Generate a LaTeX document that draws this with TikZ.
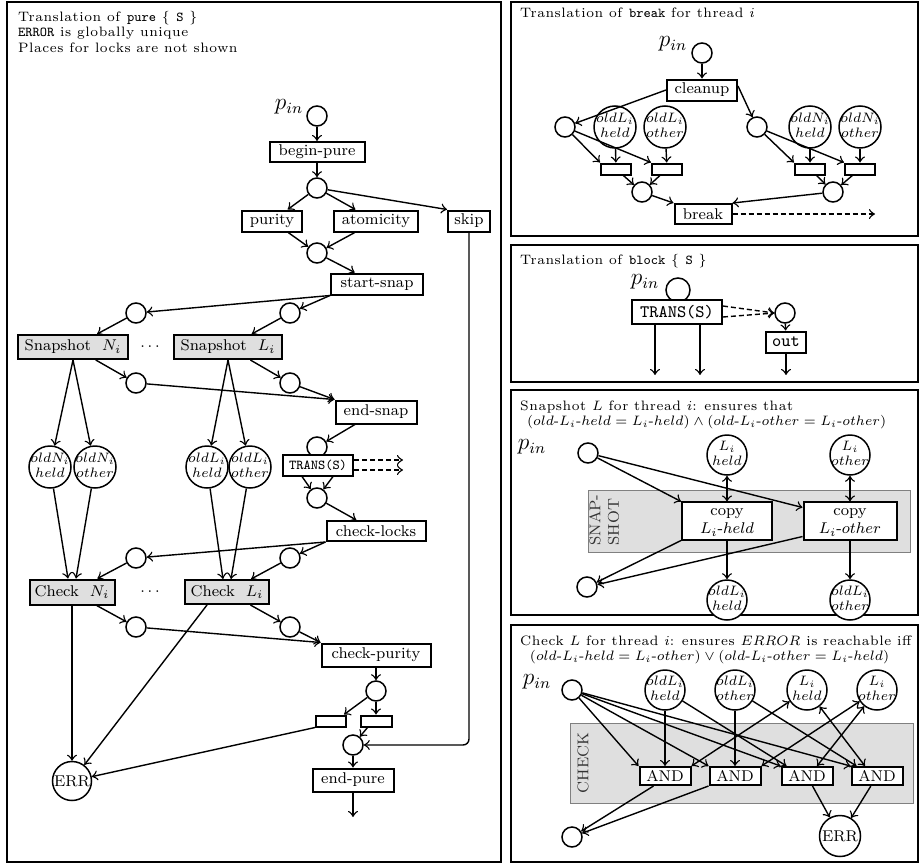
\documentclass[tikz,border=0pt]{standalone}
\usepackage{graphicx}
\usepackage{fontspec}
\newfontfamily\sevrm{lmroman7-regular.otf}[LetterSpace=4]
\usetikzlibrary{arrows.meta,calc}
\newcommand\sx[1]{\scalebox{1.95}{#1}}
\newcommand\twol[2]{\sx{\scriptsize\begin{tabular}{@{}c@{}}$#1$\\$#2$\end{tabular}}}
\newcommand\pinlbl{\sx{\large $p_{in}$}}
\tikzset{
 place/.style={circle,draw,line width=1.5pt,minimum size=20pt,inner sep=0pt,fill=white},
 bigplace/.style={circle,draw,line width=1.5pt,minimum size=42pt,inner sep=0pt,fill=white},
 errplace/.style={circle,draw,line width=1.5pt,minimum size=39pt,inner sep=0pt,fill=white},
 trans/.style={rectangle,draw,line width=2pt,inner sep=0pt,fill=white},
 gtrans/.style={trans,fill=gray!25},
 arr/.style={-{Classical TikZ Rightarrow[length=6pt,width=10pt]},line width=1.4pt},
 darr/.style={{Classical TikZ Rightarrow[length=6pt,width=10pt]}-{Classical TikZ Rightarrow[length=6pt,width=10pt]},line width=1.4pt},
 dsh/.style={arr,dash pattern=on 5pt off 3pt},
 panelbox/.style={draw,line width=2.2pt},
 region/.style={draw=gray,line width=0.8pt,fill=gray!25},
 lbl/.style={inner sep=0pt},
}
\begin{document}
\begin{tikzpicture}[x=1pt,y=-1pt]
\useasboundingbox (0,0) rectangle (920,867);
% panels
\draw[panelbox] (7,2) rectangle (501,862);
\draw[panelbox] (511,2) rectangle (918,236);
\draw[panelbox] (511,245) rectangle (918,382);
\draw[panelbox] (511,390) rectangle (918,615);
\draw[panelbox] (511,625) rectangle (918,862);

%================ LEFT PANEL ================
\node[lbl,anchor=north west] (t1) at (18,10) {\sx{\scriptsize\sevrm\begin{tabular}{@{}l@{}}Translation of \texttt{pure} \{ \texttt{S} \}\\\texttt{ERROR} is globally unique\\Places for locks are not shown\end{tabular}}};
\node[place] (pin) at (317,116) {};
\node[lbl] (pinl) at (289,107) {\pinlbl};
\node[trans,minimum width=95pt,minimum height=20pt] (bp) at (317,152) {\sx{\footnotesize begin-pure}};
\node[place] (c2) at (317,188) {};
\node[trans,minimum width=60pt,minimum height=21pt] (pur) at (272,221) {\sx{\footnotesize purity}};
\node[trans,minimum width=84pt,minimum height=21pt] (atom) at (376,221) {\sx{\footnotesize atomicity}};
\node[trans,minimum width=42pt,minimum height=21pt] (skip) at (469,221) {\sx{\footnotesize skip}};
\node[place] (c3) at (317,253) {};
\node[trans,minimum width=92pt,minimum height=21pt] (ss) at (377,284) {\sx{\footnotesize start-snap}};
\node[place] (s1) at (136,313) {};
\node[place] (s2) at (290,313) {};
\node[gtrans,minimum width=110pt,minimum height=24pt] (snN) at (73,347) {\sx{\footnotesize Snapshot\ \ $N_i$}};
\node[lbl] (dots1) at (150,347) {\sx{\footnotesize $\cdots$}};
\node[gtrans,minimum width=108pt,minimum height=24pt] (snL) at (228,347) {\sx{\footnotesize Snapshot\ \ $L_i$}};
\node[place] (e1) at (136,383) {};
\node[place] (e2) at (290,383) {};
\node[trans,minimum width=81pt,minimum height=23pt] (es) at (376,412) {\sx{\footnotesize end-snap}};
\node[bigplace,label={[lbl]center:\twol{oldN_i}{held}}] (oNh) at (50,467) {};
\node[bigplace,label={[lbl]center:\twol{oldN_i}{other}}] (oNo) at (95,467) {};
\node[bigplace,label={[lbl]center:\twol{oldL_i}{held}}] (oLh) at (207,467) {};
\node[bigplace,label={[lbl]center:\twol{oldL_i}{other}}] (oLo) at (250,467) {};
\node[place] (ct) at (317,447) {};
\node[trans,minimum width=70pt,minimum height=21pt] (tr) at (318,465) {\sx{\scriptsize\ttfamily TRANS(S)}};
\coordinate (d1) at (403,460);
\coordinate (d2) at (403,470);
\node[place] (ct2) at (317,498) {};
\node[trans,minimum width=99pt,minimum height=20pt] (cl) at (376,531) {\sx{\footnotesize check-locks}};
\node[place] (k1) at (136,558) {};
\node[place] (k2) at (290,558) {};
\node[gtrans,minimum width=85pt,minimum height=25pt] (ckN) at (72,592) {\sx{\footnotesize Check\ \ $N_i$}};
\node[lbl] (dots2) at (150,592) {\sx{\footnotesize $\cdots$}};
\node[gtrans,minimum width=84pt,minimum height=24pt] (ckL) at (227,592) {\sx{\footnotesize Check\ \ $L_i$}};
\node[place] (p1) at (136,627) {};
\node[place] (p2) at (290,627) {};
\node[trans,minimum width=109pt,minimum height=23pt] (cp) at (376,655) {\sx{\footnotesize check-purity}};
\node[place] (q) at (376,691) {};
\node[trans,minimum width=30pt,minimum height=11pt] (r1) at (331,721) {};
\node[trans,minimum width=31pt,minimum height=11pt] (r2) at (376,721) {};
\node[place] (ce) at (353,745) {};
\node[errplace] (err) at (72,781) {\sx{\footnotesize ERR}};
\node[trans,minimum width=81pt,minimum height=23pt] (ep) at (353,780) {\sx{\footnotesize end-pure}};
\coordinate (epo) at (353,817);

\draw[arr] (pin) -- (bp);
\draw[arr] (bp) -- (c2);
\draw[arr] (c2) -- (pur);
\draw[arr] (c2) -- (atom);
\draw[arr] (c2) -- (skip.north west);
\draw[arr] (pur) -- (c3);
\draw[arr] (atom) -- (c3);
\draw[arr] (c3) -- (ss);
\draw[arr] (ss.south west) -- (s1);
\draw[arr] (ss.south west) -- (s2);
\draw[arr] (s1) -- (snN);
\draw[arr] (s2) -- (snL);
\draw[arr] (snN) -- (e1);
\draw[arr] (snL) -- (e2);
\draw[arr] (e1) -- (es.north west);
\draw[arr] (e2) -- (es.north west);
\draw[arr] (es) -- (ct);
\draw[arr] (snN.south) -- (oNh);
\draw[arr] (snN.south) -- (oNo);
\draw[arr] (snL.south) -- (oLh);
\draw[arr] (snL.south) -- (oLo);
\draw[dsh] (tr.east |- d1) -- (d1);
\draw[dsh] (tr.east |- d2) -- (d2);
\draw[arr] ($(tr.south)+(-16,0)$) -- (ct2);
\draw[arr] ($(tr.south)+(15,0)$) -- (ct2);
\draw[arr] (ct2) -- (cl);
\draw[arr] (cl.south west) -- (k1);
\draw[arr] (cl.south west) -- (k2);
\draw[arr] (k1) -- (ckN);
\draw[arr] (k2) -- (ckL);
\draw[arr] (oNh) -- ($(ckN.north)+(-4,0)$);
\draw[arr] (oNo) -- ($(ckN.north)+(4,0)$);
\draw[arr] (oLh) -- ($(ckL.north)+(-4,0)$);
\draw[arr] (oLo) -- ($(ckL.north)+(4,0)$);
\draw[arr] (ckN) -- (p1);
\draw[arr] (ckL) -- (p2);
\draw[arr] (p1) -- (cp.north west);
\draw[arr] (p2) -- (cp.north west);
\draw[arr] (cp) -- (q);
\draw[arr] (q) -- ($(r1.north east)+(-3,0)$);
\draw[arr] (q) -- (r2);
\draw[arr] ($(r2.south west)+(8,0)$) -- (ce);
\draw[arr] (r1.south west) -- (err);
\draw[arr] (ckN) -- (err);
\draw[arr] ($(ckL.south)+(-20,0)$) -- (err);
\draw[arr,rounded corners=6pt] (skip) |- (ce);
\draw[arr] (ce) -- (ep);
\draw[arr] (ep) -- (epo);

%================ BREAK PANEL ================
\node[lbl,anchor=north west] (t2) at (520,8) {\sx{\scriptsize\sevrm Translation of \texttt{break} for thread $i$}};
\node[place] (bpin) at (702,53) {};
\node[lbl] (bpinl) at (673,44) {\pinlbl};
\node[trans,minimum width=70pt,minimum height=21pt] (cu) at (702,90) {\sx{\footnotesize cleanup}};
\node[place] (bl) at (565,127) {};
\node[bigplace,label={[lbl]center:\twol{oldL_i}{held}}] (bLh) at (615,127) {};
\node[bigplace,label={[lbl]center:\twol{oldL_i}{other}}] (bLo) at (665,127) {};
\node[place] (br) at (757,127) {};
\node[bigplace,label={[lbl]center:\twol{oldN_i}{held}}] (bNh) at (810,127) {};
\node[bigplace,label={[lbl]center:\twol{oldN_i}{other}}] (bNo) at (860,127) {};
\node[trans,minimum width=30pt,minimum height=11pt] (ra) at (616,169) {};
\node[trans,minimum width=30pt,minimum height=11pt] (rb) at (667,169) {};
\node[trans,minimum width=30pt,minimum height=11pt] (rc) at (810,169) {};
\node[trans,minimum width=30pt,minimum height=11pt] (rd) at (860,169) {};
\node[place] (bb1) at (642,192) {};
\node[place] (bb2) at (833,192) {};
\node[trans,minimum width=57pt,minimum height=20pt] (brk) at (703,214) {\sx{\footnotesize break}};
\coordinate (bo) at (875,214);

\draw[arr] (bpin) -- (cu);
\draw[arr] (cu.west) -- (bl);
\draw[arr] ($(cu.east)+(0,-4)$) -- (br);
\draw[arr] (bl) -- (ra.north west);
\draw[arr] (bl) -- (rb.north west);
\draw[arr] (br) -- (rc.north west);
\draw[arr] (br) -- (rd.north west);
\draw[arr] (bLh) -- (ra);
\draw[arr] (bLo) -- (rb);
\draw[arr] (bNh) -- (rc);
\draw[arr] (bNo) -- (rd);
\draw[arr] (ra) -- (bb1);
\draw[arr] (rb) -- (bb1);
\draw[arr] (rc) -- (bb2);
\draw[arr] (rd) -- (bb2);
\draw[arr] (bb1) -- (brk.north west);
\draw[arr] (bb2) -- (brk.north east);
\draw[dsh] (brk) -- (bo);

%================ BLOCK PANEL ================
\node[lbl,anchor=north west] (t3) at (520,254) {\sx{\scriptsize\sevrm Translation of \texttt{block} \{ \texttt{S} \}}};
\node[place,minimum size=24pt] (kpin) at (678,290) {};
\node[lbl] (kpinl) at (645,282) {\pinlbl};
\node[trans,minimum width=90pt,minimum height=24pt] (ktr) at (677,312) {\sx{\small\ttfamily TRANS(S)}};
\node[place] (kc) at (785,313) {};
\node[trans,minimum width=40pt,minimum height=21pt] (kout) at (786,342) {\sx{\small\ttfamily out}};
\coordinate (ko) at (786,375);
\coordinate (ka) at (655,375);
\coordinate (kb) at (700,375);
\draw[dsh] ($(ktr.east)+(0,-6)$) -- (kc.west);
\draw[dsh] ($(ktr.east)+(0,5)$) -- (kc.west);
\draw[arr] (kc) -- (kout);
\draw[arr] (kout) -- (ko);
\draw[arr] (ktr.south -| ka) -- (ka);
\draw[arr] (ktr.south -| kb) -- (kb);

%================ SNAPSHOT PANEL ================
\node[lbl,anchor=north west] (t4) at (520,399) {\sx{\scriptsize\sevrm\begin{tabular}{@{}l@{}}Snapshot $L$ for thread $i$: ensures that\\\hspace{3.5pt}$(old\mbox{-}L_i\mbox{-}held = L_i\mbox{-}held) \wedge (old\mbox{-}L_i\mbox{-}other = L_i\mbox{-}other)$\end{tabular}}};
\draw[region] (588,490) rectangle (910,552);
\node[lbl,rotate=90,text=black!80] (snaplbl) at (606,520) {\sx{\footnotesize\begin{tabular}{@{}l@{}}SNAP-\\SHOT\end{tabular}}};
\node[place] (npin) at (588,453) {};
\node[lbl] (npinl) at (532,447) {\pinlbl};
\node[bigplace,minimum size=40pt,label={[lbl]center:\twol{L_i}{held}}] (nLh) at (727,455) {};
\node[bigplace,minimum size=40pt,label={[lbl]center:\twol{L_i}{other}}] (nLo) at (850,455) {};
\node[trans,minimum width=90pt,minimum height=36pt] (cH) at (727,521) {\sx{\footnotesize\begin{tabular}{@{}c@{}}copy\\$L_i$-$held$\end{tabular}}};
\node[trans,minimum width=93pt,minimum height=36pt] (cO) at (850,521) {\sx{\footnotesize\begin{tabular}{@{}c@{}}copy\\$L_i$-$other$\end{tabular}}};
\node[bigplace,minimum size=40pt,label={[lbl]center:\twol{oldL_i}{held}}] (nOh) at (727,600) {};
\node[bigplace,minimum size=40pt,label={[lbl]center:\twol{oldL_i}{other}}] (nOo) at (850,600) {};
\node[place] (nout) at (587,587) {};
\draw[darr] (nLh) -- (cH);
\draw[darr] (nLo) -- (cO);
\draw[arr] (cH) -- (nOh);
\draw[arr] (cO) -- (nOo);
\draw[arr] (npin) -- (cH.north west);
\draw[arr] (npin) -- ($(cO.north west)+(0,6)$);
\draw[arr] (cH.south west) -- (nout);
\draw[arr] ($(cO.south west)+(0,-4)$) -- (nout);

%================ CHECK PANEL ================
\node[lbl,anchor=north west] (t5) at (520,634) {\sx{\scriptsize\sevrm\begin{tabular}{@{}l@{}}Check $L$ for thread $i$: ensures $ERROR$ is reachable iff\\\hspace{5pt}$(old\mbox{-}L_i\mbox{-}held = L_i\mbox{-}other) \vee (old\mbox{-}L_i\mbox{-}other = L_i\mbox{-}held)$\end{tabular}}};
\draw[region] (570,723) rectangle (913,803);
\node[lbl,rotate=90,text=black!80] (checklbl) at (583,763) {\sx{\footnotesize CHECK}};
\node[place] (hpin) at (572,690) {};
\node[lbl] (hpinl) at (537,682) {\pinlbl};
\node[bigplace,minimum size=40pt,label={[lbl]center:\twol{oldL_i}{held}}] (hOh) at (665,690) {};
\node[bigplace,minimum size=40pt,label={[lbl]center:\twol{oldL_i}{other}}] (hOo) at (735,690) {};
\node[bigplace,minimum size=40pt,label={[lbl]center:\twol{L_i}{held}}] (hLh) at (807,690) {};
\node[bigplace,minimum size=40pt,label={[lbl]center:\twol{L_i}{other}}] (hLo) at (877,690) {};
\node[trans,minimum width=51pt,minimum height=18pt] (a1) at (665,776) {\sx{\footnotesize AND}};
\node[trans,minimum width=51pt,minimum height=18pt] (a2) at (735,776) {\sx{\footnotesize AND}};
\node[trans,minimum width=51pt,minimum height=18pt] (a3) at (807,776) {\sx{\footnotesize AND}};
\node[trans,minimum width=51pt,minimum height=18pt] (a4) at (877,776) {\sx{\footnotesize AND}};
\node[place] (hout) at (572,837) {};
\node[errplace,minimum size=41pt] (err2) at (840,836) {\sx{\footnotesize ERR}};
\draw[arr] (hpin) -- (a1.north west);
\draw[arr] (hpin) -- (a2.north west);
\draw[arr] (hpin) -- (a3.north west);
\draw[arr] (hpin) -- (a4.north west);
\draw[arr] (hOh) -- (a1);
\draw[arr] (hOo) -- (a2);
\draw[arr] (hOh) -- ($(a3.north west)+(6,0)$);
\draw[arr] (hOo) -- ($(a4.north west)+(6,0)$);
\draw[darr] (a1.north east) -- (hLh);
\draw[darr] (a2.north east) -- (hLo);
\draw[darr] ($(a4.north)+(-12,0)$) -- (hLh);
\draw[darr] ($(a3.north)+(10,0)$) -- (hLo);
\draw[arr] ($(a1.south west)+(15,0)$) -- (hout);
\draw[arr] (a2.south west) -- (hout);
\draw[arr] (a3) -- (err2);
\draw[arr] (a4) -- (err2);
\end{tikzpicture}
\end{document}
